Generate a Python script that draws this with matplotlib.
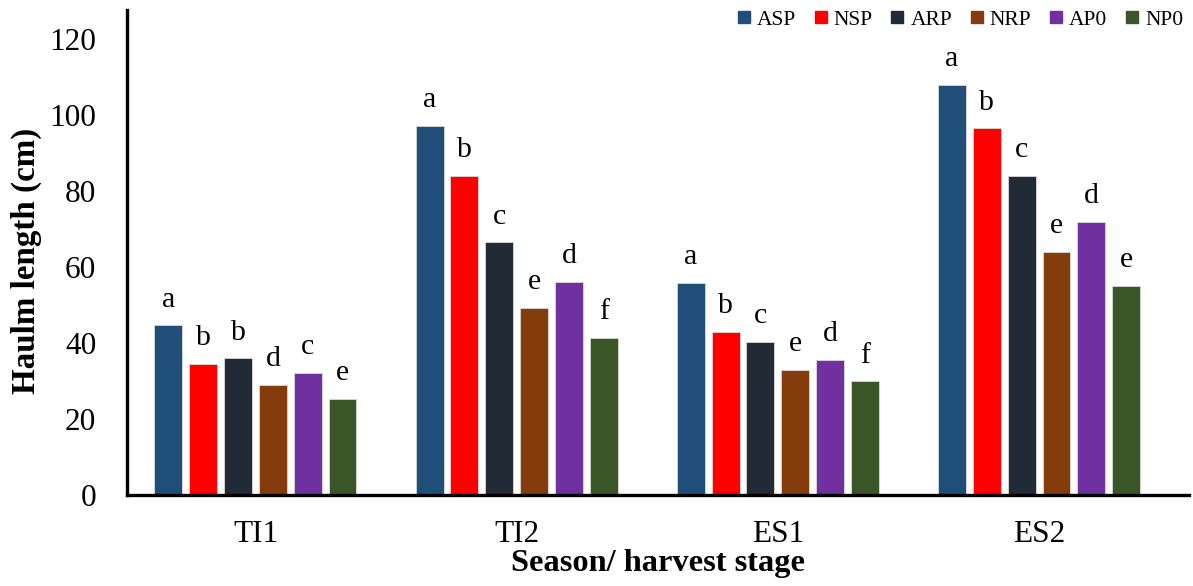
import numpy as np
import matplotlib
matplotlib.use('Agg')
import matplotlib.pyplot as plt
from matplotlib.lines import Line2D

plt.rcParams['font.family'] = ['Liberation Serif', 'DejaVu Serif']

# data
stages = ['TI1', 'TI2', 'ES1', 'ES2']
treatments = ['ASP', 'NSP', 'ARP', 'NRP', 'AP0', 'NP0']
colors = ['#1F4E79', '#FF0000', '#222A35', '#843C0C', '#7030A0', '#3A5626']

asp = [44.6, 97.0, 55.8, 107.8]
nsp = [34.5, 83.9, 42.8, 96.4]
arp = [35.9, 66.4, 40.2, 83.8]
nrp = [29.0, 49.1, 32.8, 63.9]
ap0 = [32.2, 56.1, 35.6, 71.8]
np0 = [25.2, 41.4, 29.9, 54.9]
values = [asp, nsp, arp, nrp, ap0, np0]

# significance letters, per treatment
let_asp = ['a', 'a', 'a', 'a']
let_nsp = ['b', 'b', 'b', 'b']
let_arp = ['b', 'c', 'c', 'c']
let_nrp = ['d', 'e', 'e', 'e']
let_ap0 = ['c', 'd', 'd', 'd']
let_np0 = ['e', 'f', 'f', 'e']
letters = [let_asp, let_nsp, let_arp, let_nrp, let_ap0, let_np0]

fig = plt.figure(figsize=(11.93, 5.86), dpi=100)
ax = fig.add_axes([126.7 / 1193, 91 / 586, (1189 - 126.7) / 1193, (495 - 10) / 586])

x = np.arange(len(stages))
pitch = 0.1333
width = 0.107
for i, (vals, col, lets) in enumerate(zip(values, colors, letters)):
    pos = x + (i - 2.5) * pitch
    bars = ax.bar(pos, vals, width=width, color=col, edgecolor='#d9d9d9', linewidth=0.6, zorder=2)
    for b, l in zip(bars, lets):
        ax.annotate(l, (b.get_x() + b.get_width() / 2, b.get_height()),
                    xytext=(0, 13.5), textcoords='offset points',
                    ha='center', va='baseline', fontsize=21.5)

ax.set_xlim(-0.493, 3.574)
ax.set_ylim(0, 127.5)
ax.set_yticks(np.arange(0, 121, 20))
ax.set_xticks(x)
ax.set_xticklabels(stages)
ax.tick_params(axis='both', length=0, labelsize=22.5)
ax.tick_params(axis='y', pad=22)
ax.tick_params(axis='x', pad=18)

for s in ['top', 'right']:
    ax.spines[s].set_visible(False)
for s in ['left', 'bottom']:
    ax.spines[s].set_linewidth(2.4)
    ax.spines[s].set_zorder(3)

ax.set_ylabel('Haulm length (cm)', fontsize=23.8, fontweight='bold')
ax.yaxis.set_label_coords(-0.08, 0.482)
ax.set_xlabel('Season/ harvest stage', fontsize=23.3, fontweight='bold', labelpad=0)

handles = [Line2D([], [], marker='s', linestyle='none', markersize=8,
                  markerfacecolor=c, markeredgecolor=c) for c in colors]
fig.legend(handles, treatments, ncol=6, frameon=False, fontsize=15.5,
           loc='center right', bbox_to_anchor=(1.008, 0.966),
           handletextpad=0.15, columnspacing=0.7, handlelength=0.9)

fig.savefig('out.png', dpi=100)
